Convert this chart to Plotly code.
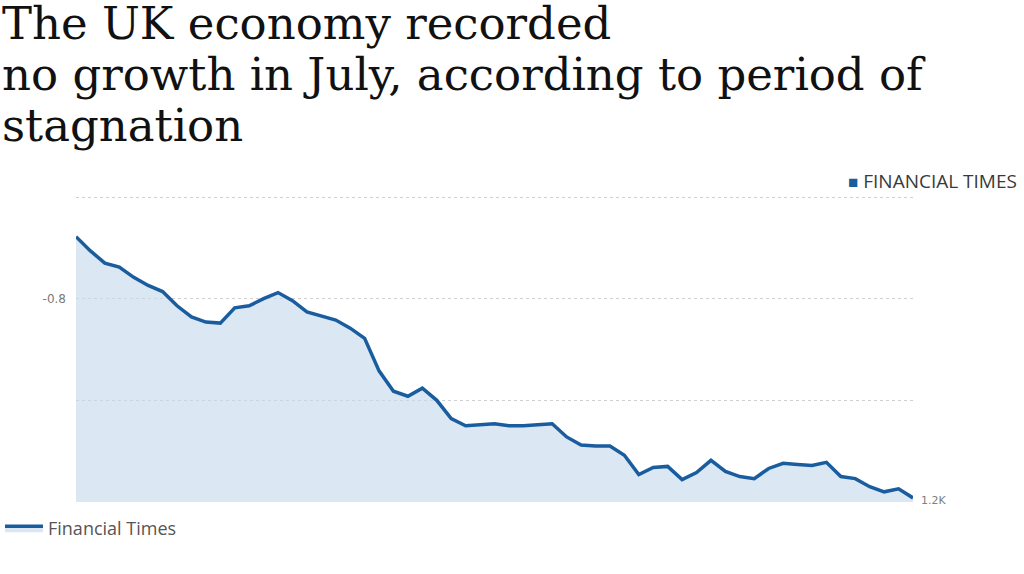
import plotly.graph_objects as go

# --- data ---
period_index = list(range(59))
gdp_level = [2.61, 2.47, 2.35, 2.31, 2.21, 2.13, 2.07, 1.93, 1.82, 1.77,
             1.76, 1.91, 1.93, 2.00, 2.06, 1.98, 1.87, 1.83, 1.79, 1.71,
             1.61, 1.29, 1.09, 1.04, 1.12, 1.00, 0.82, 0.75, 0.76, 0.77,
             0.75, 0.75, 0.76, 0.77, 0.64, 0.56, 0.55, 0.55, 0.46, 0.27,
             0.34, 0.35, 0.22, 0.29, 0.41, 0.30, 0.25, 0.23, 0.33, 0.38,
             0.37, 0.36, 0.39, 0.25, 0.23, 0.15, 0.10, 0.13, 0.04]
y_tick_vals = [1, 2, 3]
y_tick_text = ["", "-0.8", ""]
title_lines = ["The UK economy recorded",
               "no growth in July, according to period of",
               "stagnation"]
series_name = "Financial Times"
source_label = "FINANCIAL TIMES"
end_label = "1.2K"

LINE = "#1a5d9e"
FILL = "rgba(200,219,238,0.65)"

fig = go.Figure()
fig.add_trace(go.Scatter(
    x=period_index, y=gdp_level, mode="lines", fill="tozeroy",
    fillcolor=FILL, line=dict(color=LINE, width=3.5),
    name=series_name, showlegend=True, hoverinfo="skip"))

W, H = 1024, 574
L, R, T, B = 76, 111, 196, 72
pw, ph = W - L - R, H - T - B

def px(xp):
    return (xp - L) / pw

def py(yp):
    return (H - B - yp) / ph

annotations = []
baselines = [40, 91, 142]
for line, base in zip(title_lines, baselines):
    annotations.append(dict(
        text=line, xref="paper", yref="paper", x=px(0), y=py(base + 12),
        xanchor="left", yanchor="bottom", showarrow=False,
        font=dict(family="DejaVu Serif", size=45, color="#111111")))

annotations.append(dict(
    text=f'<span style="color:{LINE};font-size:17px">■</span> {source_label}',
    xref="paper", yref="paper", x=px(1019), y=py(181),
    xanchor="right", yanchor="middle", showarrow=False,
    font=dict(family="Open Sans", size=19, color="#3a3a3a")))

annotations.append(dict(
    text=end_label, xref="paper", yref="paper", x=px(919), y=py(500),
    xanchor="left", yanchor="middle", showarrow=False,
    font=dict(family="DejaVu Sans", size=11, color="#808080")))

fig.update_layout(
    width=W, height=H,
    margin=dict(l=L, r=R, t=T, b=B, autoexpand=False),
    paper_bgcolor="white", plot_bgcolor="white",
    xaxis=dict(range=[0, len(period_index) - 1], visible=False,
               showgrid=False, zeroline=False),
    yaxis=dict(range=[0, 3.01], tickvals=y_tick_vals, ticktext=y_tick_text,
               showgrid=True, gridcolor="#cfcfcf", griddash="dot",
               gridwidth=1, zeroline=False, showline=False,
               ticks="", ticklabelstandoff=9, automargin=False,
               tickfont=dict(family="DejaVu Sans", size=12, color="#7a7a7a")),
    showlegend=True,
    legend=dict(x=px(0), y=py(510), xanchor="left", yanchor="top",
                itemwidth=38,
                font=dict(family="Open Sans", size=18, color="#555555"),
                bgcolor="rgba(0,0,0,0)"),
    annotations=annotations,
)

fig.write_html("out.html",
               config={"displayModeBar": False},
               post_script="document.body.style.margin='0';")
